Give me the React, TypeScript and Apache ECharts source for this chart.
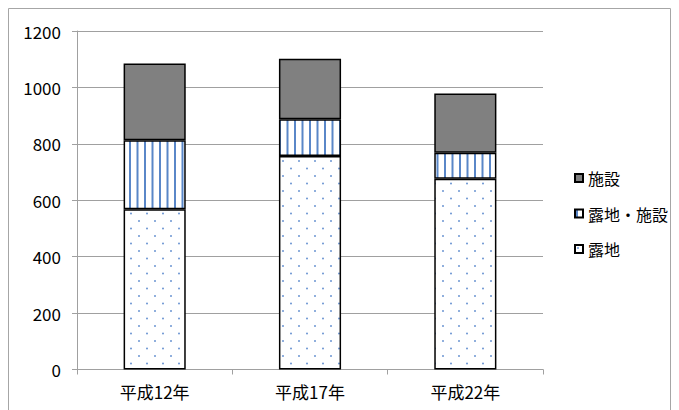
import React, { useEffect, useRef } from "react";
import * as echarts from "echarts";

const categories = ["平成12年", "平成17年", "平成22年"];
const rochi = [568, 757, 676];
const rochiShisetsu = [245, 130, 92];
const shisetsu = [272, 215, 210];
const yTicks = { min: 0, max: 1200, interval: 200 };

const FONT = "'Noto Sans CJK JP', 'Noto Sans', sans-serif";

function makeStripe(): HTMLCanvasElement {
  const c = document.createElement("canvas");
  c.width = 15;
  c.height = 10;
  const ctx = c.getContext("2d")!;
  ctx.fillStyle = "#ffffff";
  ctx.fillRect(0, 0, 15, 10);
  ctx.fillStyle = "#5a87c8";
  ctx.fillRect(1, 0, 2, 10);
  ctx.fillRect(8.5, 0, 2, 10);
  return c;
}

function makeDots(): HTMLCanvasElement {
  const c = document.createElement("canvas");
  c.width = 16;
  c.height = 15;
  const ctx = c.getContext("2d")!;
  ctx.fillStyle = "#ffffff";
  ctx.fillRect(0, 0, 16, 15);
  ctx.fillStyle = "#6b95d2";
  ctx.beginPath();
  ctx.arc(3, 3, 1, 0, Math.PI * 2);
  ctx.fill();
  ctx.beginPath();
  ctx.arc(11, 10.5, 1, 0, Math.PI * 2);
  ctx.fill();
  return c;
}

export default function App() {
  const ref = useRef<HTMLDivElement>(null);
  useEffect(() => {
    if (!ref.current) return;
    const chart = echarts.init(ref.current, undefined, { renderer: "svg" });
    const stripe = makeStripe();
    const dots = makeDots();
    const border = { borderColor: "#000", borderWidth: 1.5 };
    chart.setOption({
      animation: false,
      graphic: [
        {
          type: "rect",
          shape: { x: 0.5, y: 0.5, width: 662, height: 430 },
          style: { fill: "none", stroke: "#a6a6a6", lineWidth: 1 },
          silent: true,
        },
      ],
      grid: { left: 69, right: 128, top: 23, bottom: 48.5 },
      legend: {
        orient: "vertical",
        left: 566,
        top: 162,
        padding: 0,
        itemWidth: 8,
        itemHeight: 8,
        itemGap: 19.5,
        data: ["施設", "露地・施設", "露地"],
        textStyle: { fontFamily: FONT, fontSize: 16, color: "#000" },
        icon: "rect",
      },
      xAxis: {
        type: "category",
        data: categories,
        axisLine: { lineStyle: { color: "#a0a0a0", width: 1 } },
        axisTick: { show: true, length: 5, lineStyle: { color: "#a0a0a0" } },
        axisLabel: { fontFamily: FONT, fontSize: 17, color: "#000", margin: 13 },
      },
      yAxis: {
        type: "value",
        min: yTicks.min,
        max: yTicks.max,
        interval: yTicks.interval,
        axisLine: { show: true, lineStyle: { color: "#a0a0a0", width: 1 } },
        axisTick: { show: true, length: 5, lineStyle: { color: "#a0a0a0" } },
        splitLine: { lineStyle: { color: "#a0a0a0", width: 1 } },
        axisLabel: {
          fontFamily: FONT,
          fontSize: 17,
          color: "#000",
          margin: 16,
          formatter: (v: number) => String(v),
        },
      },
      series: [
        {
          name: "露地",
          type: "bar",
          stack: "t",
          barWidth: "40%",
          data: rochi,
          itemStyle: { color: { image: dots, repeat: "repeat" }, ...border },
        },
        {
          name: "露地・施設",
          type: "bar",
          stack: "t",
          barWidth: "40%",
          data: rochiShisetsu,
          itemStyle: { color: { image: stripe, repeat: "repeat" }, ...border },
        },
        {
          name: "施設",
          type: "bar",
          stack: "t",
          barWidth: "40%",
          data: shisetsu,
          itemStyle: { color: "#808080", ...border },
        },
      ],
    });
    return () => chart.dispose();
  }, []);
  return <div ref={ref} style={{ width: 663, height: 410 }} />;
}
